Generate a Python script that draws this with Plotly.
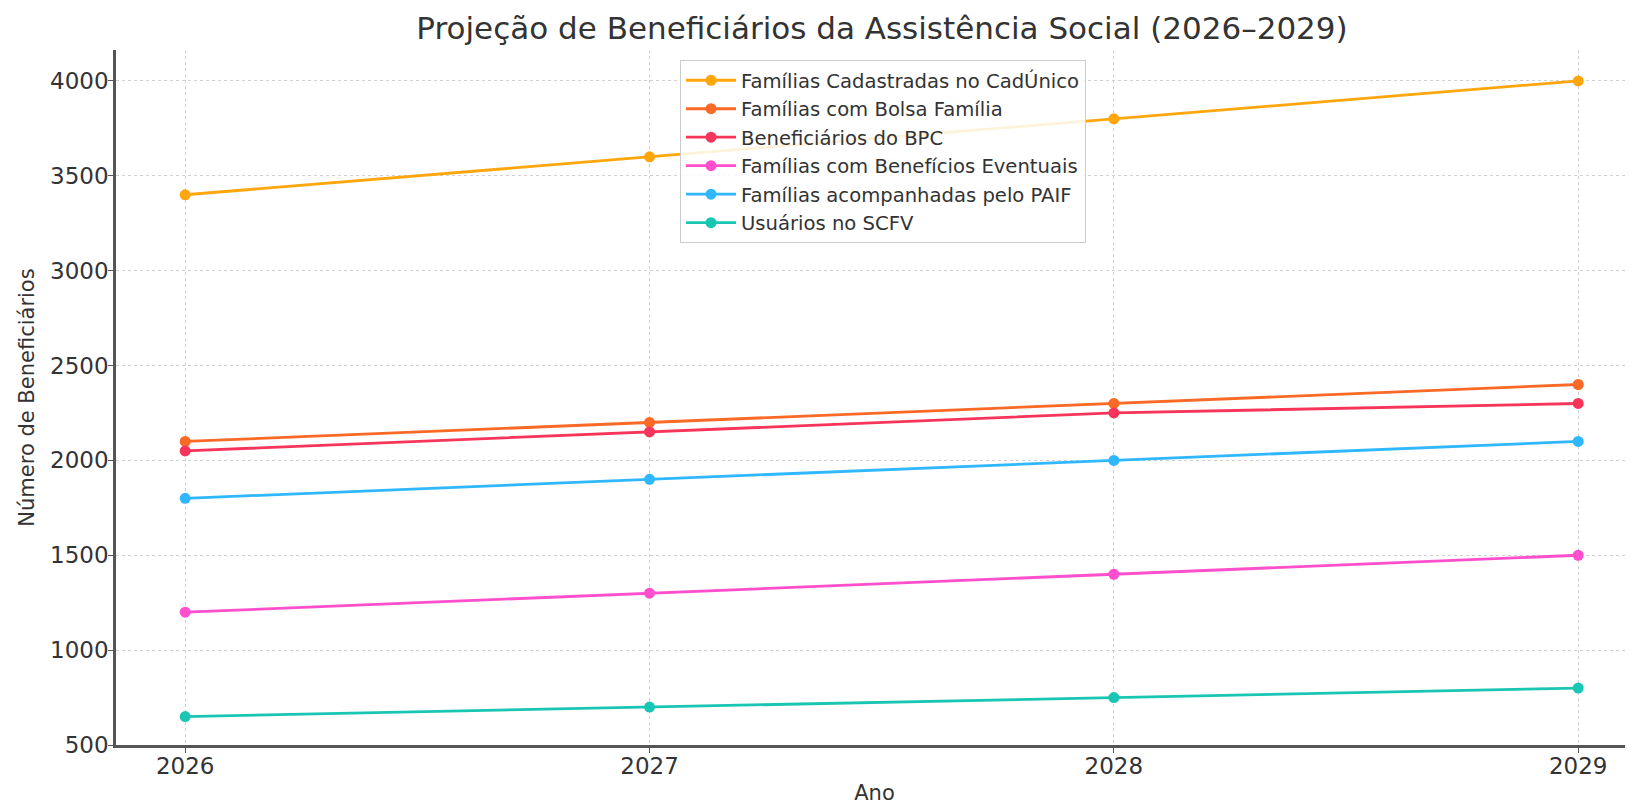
import plotly.graph_objects as go

anos = [2026, 2027, 2028, 2029]
cadunico = [3400, 3600, 3800, 4000]
bolsa_familia = [2100, 2200, 2300, 2400]
bpc = [2050, 2150, 2250, 2300]
beneficios_eventuais = [1200, 1300, 1400, 1500]
paif = [1800, 1900, 2000, 2100]
scfv = [650, 700, 750, 800]

series_names = [
    "Famílias Cadastradas no CadÚnico",
    "Famílias com Bolsa Família",
    "Beneficiários do BPC",
    "Famílias com Benefícios Eventuais",
    "Famílias acompanhadas pelo PAIF",
    "Usuários no SCFV",
]
series_values = [cadunico, bolsa_familia, bpc, beneficios_eventuais, paif, scfv]
colors = ["#FFA60D", "#FA6A26", "#F7355A", "#FF4FCC", "#2FB8FF", "#19C6B4"]

FONT = "DejaVu Sans"
# page has an 8px body margin; figure is sized to fill the remaining window
W, H = 1625, 797
fig = go.Figure()
for i, (name, vals, c) in enumerate(zip(series_names, series_values, colors)):
    fig.add_trace(go.Scatter(
        x=anos, y=vals, name=name, mode="lines+markers",
        line=dict(color=c, width=2.8),
        marker=dict(color=c, size=11),
        legendgroup=f"g{i}",
    ))

fig.update_layout(
    width=W, height=H,
    margin=dict(l=108, r=0, t=42, b=60, autoexpand=False),
    paper_bgcolor="white", plot_bgcolor="white",
    font=dict(family=FONT, color="#333333"),
    title=dict(text="Projeção de Beneficiários da Assistência Social (2026–2029)",
               x=874 / W, xref="container", xanchor="center",
               y=1 - 20 / H, yref="container", yanchor="middle",
               font=dict(size=31, color="#333333", family=FONT)),
    showlegend=True,
    legend=dict(x=0.3718, y=0.9856, xanchor="left", yanchor="top",
                bgcolor="rgba(255,255,255,0.85)", bordercolor="#cccccc", borderwidth=1,
                font=dict(size=19.6, color="#333333", family=FONT),
                tracegroupgap=0, itemwidth=50),
)
fig.update_xaxes(
    range=[2025.851, 2029.118], tickmode="array", tickvals=anos,
    ticktext=[str(a) for a in anos],
    showline=True, linecolor="#555555", linewidth=2.5,
    ticks="outside", ticklen=5, tickcolor="#555555",
    tickfont=dict(size=23, color="#333333"),
    ticklabelstandoff=-6,
    showgrid=True, gridcolor="#d0d0d0", griddash="dot", gridwidth=1,
    zeroline=False, automargin=False,
    title=dict(text="Ano", font=dict(size=21, color="#333333"), standoff=8),
)
fig.update_yaxes(
    range=[500, 4163], tickmode="array", tickvals=[500, 1000, 1500, 2000, 2500, 3000, 3500, 4000],
    showline=True, linecolor="#555555", linewidth=2.5,
    ticks="outside", ticklen=5, tickcolor="#555555",
    tickfont=dict(size=23, color="#333333"),
    ticklabelstandoff=-5,
    showgrid=True, gridcolor="#d0d0d0", griddash="dot", gridwidth=1,
    zeroline=False, automargin=False,
    title=dict(text="Número de Beneficiários", font=dict(size=21, color="#333333"), standoff=10),
)
fig.write_html("out.html")
